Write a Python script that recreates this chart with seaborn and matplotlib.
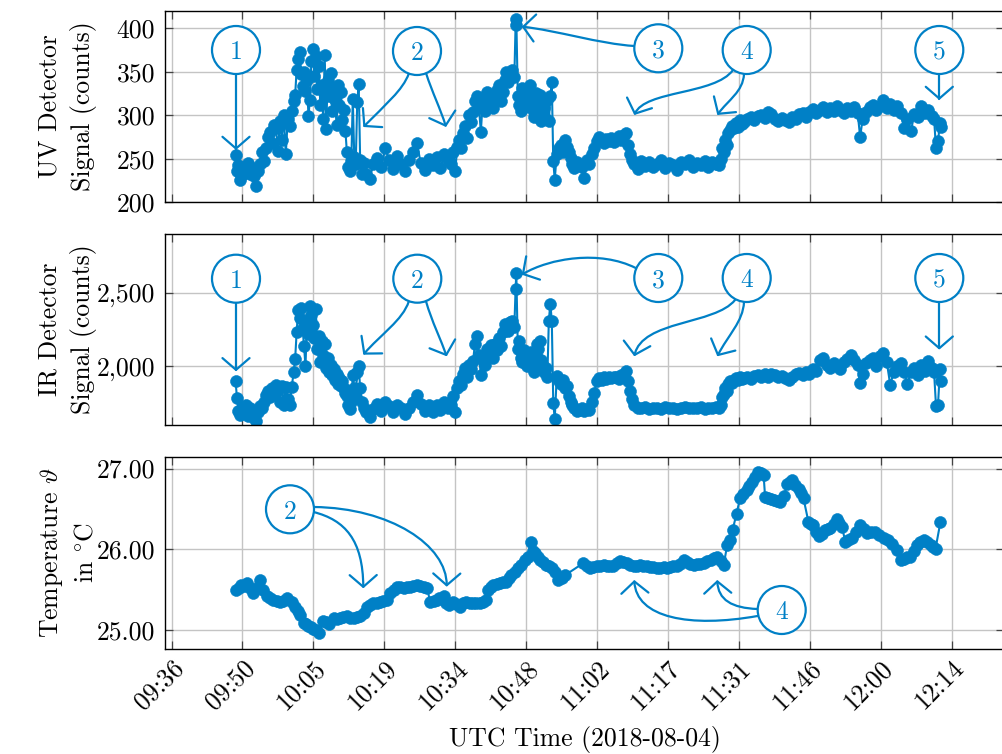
import matplotlib
matplotlib.use("Agg")
import matplotlib.pyplot as plt
from matplotlib.patches import Circle, FancyArrowPatch
from matplotlib.path import Path
from matplotlib.transforms import Affine2D
import pandas as pd
import seaborn as sns

# ---------------------------------------------------------------------------
# Detector readings (UV and IR share the same sampling instants).
# Times are minutes after midnight UTC on 2018-08-04.
# ---------------------------------------------------------------------------
detector_minutes = [
    589.0, 589.3, 589.6, 589.9, 590.3, 590.7, 591.1, 591.5, 591.9, 592.3, 592.7, 593.1, 593.5, 594.0,
    594.4, 594.8, 595.2, 595.6, 596.0, 596.4, 596.8, 597.2, 597.6, 598.0, 598.4, 598.8, 599.2, 599.6, 600.0, 600.4,
    600.8, 601.1, 601.4, 601.7, 602.0, 602.3, 602.6, 602.9, 603.2, 603.5, 603.8, 604.1, 604.4, 604.7, 605.0, 605.3,
    605.6, 605.9, 606.2, 606.5, 606.8, 607.1, 607.4, 607.7, 608.0, 608.3, 608.6, 608.9, 609.2, 609.5, 609.8, 610.1,
    610.4, 610.7, 611.0, 611.3,
    611.6, 611.9, 612.2, 612.5, 612.8, 613.1, 613.4, 613.7, 614.0, 614.3, 614.6, 615.0,
    615.4, 616.2, 617.0, 617.8, 618.6, 619.4, 620.2, 621.0, 621.8, 622.6, 623.4, 624.2, 625.0, 625.8, 626.6, 627.4,
    628.2, 629.0, 629.8, 630.6, 631.4, 632.2,
    632.8, 633.2, 633.6, 634.0, 634.4, 634.8, 635.2, 635.6, 636.0, 636.4, 636.8, 637.2, 637.6, 638.0, 638.4, 638.8,
    639.2, 639.6, 640.0, 640.4, 640.8, 641.2, 641.6, 642.0, 642.4, 642.8, 643.2, 643.6, 644.0, 644.4, 644.8, 645.2, 645.6,
    645.85, 646.0,
    646.3, 646.6, 646.9, 647.2, 647.5, 647.8, 648.1, 648.4, 648.7, 649.0, 649.3, 649.6, 649.9, 650.2, 650.5, 650.8,
    651.1, 651.4, 651.7, 652.0, 652.3, 652.6, 652.9, 653.2,
    653.5, 653.8, 654.2, 654.6, 655.0, 655.4, 655.8, 656.2, 656.6, 657.0, 657.4, 657.8, 658.3, 658.8, 659.3, 659.8,
    660.3, 660.8, 661.3, 661.8, 662.3, 662.8, 663.3, 663.8, 664.3, 664.8, 665.3, 665.8, 666.3, 666.8, 667.3, 667.8,
    668.2, 668.6, 669.0, 669.4,
    669.8, 670.6, 671.4, 672.2, 673.0, 673.8, 674.6, 675.4, 676.2, 677.0, 677.8, 678.6, 679.4, 680.2, 681.0, 681.8,
    682.6, 683.4, 684.2, 685.0, 685.8, 686.6,
    687.2, 687.5, 687.8, 688.1, 688.4, 688.7, 689.0, 689.4, 689.8, 690.2, 690.6, 691.0, 691.4, 691.8,
    692.2, 692.9, 693.6, 694.3, 695.0, 695.7, 696.4, 697.1, 697.8, 698.5, 699.2, 699.9, 700.6, 701.3, 702.0, 702.7,
    703.4, 704.1, 704.8, 705.5, 706.2, 706.9, 707.6, 708.3, 709.0, 709.7, 710.4, 711.1, 711.8, 712.5, 713.2, 713.9,
    714.6, 715.3, 715.8, 716.3, 717.0, 717.7, 718.4, 719.1, 719.8, 720.5, 721.2, 721.9, 722.6, 723.3, 724.0, 724.7,
    725.4, 726.1, 726.8, 727.5, 728.2, 728.9, 729.6, 730.3, 730.8, 731.2, 731.6, 732.0, 732.2,
]

uv_counts = [
    254, 236, 243, 226, 231, 240, 237, 245, 232, 239, 230, 219, 236, 244,
    258, 247, 262, 275, 281, 268, 289, 285, 259, 293, 272, 300, 255, 296, 288, 305,
    316, 323, 352, 364, 373, 347, 334, 350, 328, 341, 299, 318, 362, 376, 345, 368,
    330, 357, 312, 335, 296, 369, 284, 341, 322, 349, 305, 331, 318, 289, 335, 312,
    327, 295, 306, 282,
    258, 241, 236, 247, 319, 252, 244, 315, 336, 248, 233, 245,
    232, 227, 244, 251, 241, 262, 248, 238, 253, 244, 236, 249, 258, 268, 245, 237,
    250, 243, 252, 239, 256, 248,
    244, 258, 236, 263, 271, 262, 279, 288, 274, 300, 292, 304, 316, 322, 309, 281,
    318, 305, 327, 312, 323, 308, 320, 329, 335, 316, 327, 340, 350, 338, 346, 352, 344,
    404, 411,
    322, 312, 305, 331, 318, 309, 327, 314, 335, 320, 306, 298, 325, 316, 302, 323,
    293, 315, 308, 296, 318, 293, 322, 338,
    247, 226, 255, 262, 266, 258, 272, 263, 258, 251, 244, 239, 246, 243, 241, 228,
    249, 244, 256, 262, 270, 275, 271, 268, 273, 270, 274, 269, 272, 276, 271, 277,
    279, 266, 256, 248,
    244, 238, 247, 242, 246, 240, 244, 248, 239, 245, 243, 237, 246, 244, 249, 241,
    245, 243, 247, 240, 246, 244,
    243, 250, 262, 258, 271, 266, 279, 283, 288, 285, 291, 287, 294, 290,
    292, 296, 298, 294, 299, 300, 297, 304, 301, 296, 293, 297, 295, 292, 298, 296,
    301, 303, 298, 304, 307, 302, 306, 309, 304, 308, 305, 310, 306, 303, 308, 305,
    309, 302, 275, 296, 304, 309, 312, 306, 310, 317, 308, 313, 306, 311, 303, 285,
    296, 282, 301, 298, 310, 303, 306, 299, 296, 262, 270, 291, 286,
]

ir_counts = [
    1898, 1784, 1700, 1670, 1716, 1690, 1740, 1665, 1720, 1700, 1650, 1630, 1690, 1730,
    1720, 1760, 1805, 1830, 1790, 1850, 1810, 1875, 1840, 1760, 1870, 1740, 1860, 1780, 1740, 1860,
    1960, 2050, 2230, 2380, 2330, 2398, 2260, 2140, 2000, 2310, 2220, 2409, 2350, 2280, 2190, 2386,
    2120, 2205, 2030, 2170, 2080, 2150, 1990, 2060, 1960, 2010, 1940, 1980, 1910, 1950, 1880, 1920,
    1870, 1900, 1850, 1820,
    1800, 1740, 1710, 1760, 1943, 1850, 1790, 1960, 2000, 1852, 1760, 1720,
    1690, 1655, 1710, 1745, 1700, 1760, 1730, 1690, 1740, 1720, 1680, 1715, 1760, 1807, 1745, 1700,
    1735, 1690, 1740, 1705, 1755, 1720,
    1740, 1800, 1690, 1852, 1900, 1875, 1950, 1990, 1930, 2010, 1980, 2034, 2150, 2205, 2080, 1943,
    2060, 2010, 2120, 2090, 2148, 2060, 2150, 2110, 2190, 2140, 2230, 2284, 2260, 2240, 2300, 2307, 2270,
    2523, 2636,
    2120, 2170, 2060, 2030, 2110, 2050, 2000, 2080, 2057, 2100, 2010, 1960, 2080, 2150, 2120, 2170,
    2040, 2000, 1960, 1990, 1930, 2311, 2425, 2311,
    1750, 1643, 1932, 1900, 1880, 1910, 1852, 1870, 1800, 1760, 1739, 1716, 1700, 1705, 1720, 1700,
    1710, 1705, 1760, 1818, 1900, 1920, 1909, 1925, 1915, 1930, 1920, 1925, 1930, 1915, 1940, 1935,
    1966, 1900, 1830, 1780,
    1735, 1720, 1715, 1725, 1710, 1720, 1718, 1712, 1722, 1716, 1720, 1710, 1718, 1725, 1714, 1720,
    1716, 1722, 1712, 1720, 1715, 1722,
    1720, 1740, 1790, 1810, 1850, 1830, 1880, 1900, 1890, 1910, 1920, 1905, 1925, 1915,
    1920, 1930, 1915, 1935, 1940, 1925, 1945, 1930, 1950, 1940, 1925, 1935, 1920, 1910, 1930, 1945,
    1955, 1940, 1960, 1950, 1985, 1970, 2040, 2057, 2010, 1990, 2020, 2000, 1985, 2030, 2050, 2080,
    2040, 2010, 1886, 1950, 2020, 2040, 2060, 2000, 2070, 2091, 2030, 1875, 1960, 2000, 2020, 1960,
    1880, 1960, 1990, 1940, 2010, 1970, 2034, 1990, 1960, 1730, 1738, 1980, 1898,
]

# Temperature logger, sampled on its own clock (minutes after midnight UTC).
temp_minutes = [
    589.1, 589.7, 590.2, 590.8, 591.3, 592.0, 592.6, 593.6, 594.0, 594.6, 595.3, 596.0, 596.7, 597.4, 598.0, 598.7,
    599.4, 600.4, 601.1, 601.6, 602.1, 602.8, 603.3, 603.8, 604.3, 604.8, 605.4, 606.0, 606.8, 607.3, 607.9, 608.9,
    609.5, 610.2, 610.9, 611.6, 612.3, 613.0, 613.6, 614.3, 615.0, 615.7, 616.3, 617.0, 617.7, 618.4, 619.0, 619.7,
    620.4, 621.1, 621.8, 622.4, 623.1, 623.8, 624.5, 625.1, 625.8, 626.5, 627.2, 627.9, 628.5, 629.2, 629.9, 630.4,
    631.3, 631.8, 632.3, 633.1, 633.8, 634.5, 635.2, 635.8, 636.5, 637.2, 637.9, 638.6, 639.3, 639.9, 640.3, 640.8,
    641.3, 642.0, 642.6, 643.3, 644.0, 644.5, 645.0, 645.7, 646.4, 647.0, 647.7, 648.3, 648.9, 649.3, 649.8, 650.3,
    650.8, 651.4, 652.1, 652.7, 653.2, 653.8, 654.5, 655.2, 655.9, 659.6, 660.3, 661.0, 661.6, 662.3, 663.0, 663.7,
    664.4, 665.0, 665.7, 666.4, 667.1, 667.7, 668.4, 669.1, 669.8, 670.4, 671.1, 671.8, 672.5, 673.2, 673.8, 674.5,
    675.2, 675.9, 676.6, 677.2, 677.9, 678.6, 679.3, 680.0, 680.7, 681.3, 682.0, 682.7, 683.3, 684.0, 684.7, 685.5,
    686.2, 686.8, 687.5, 688.1, 688.8, 689.4, 689.9, 690.7, 691.4, 692.1, 692.8, 693.3, 693.8, 694.5, 695.1, 695.7,
    696.2, 696.5, 697.0, 697.6, 698.3, 699.0, 699.6, 700.3, 701.0, 701.5, 702.0, 702.6, 703.3, 703.8, 704.3, 705.3,
    705.8, 706.3, 706.9, 707.4, 708.0, 708.7, 709.2, 709.7, 710.4, 711.0, 711.6, 712.1, 712.8, 713.4, 714.1, 714.9,
    715.8, 716.5, 717.2, 718.0, 718.9, 719.7, 720.6, 721.4, 722.3, 723.3, 724.0, 724.6, 725.3, 726.0, 726.7, 727.4,
    728.0, 728.7, 729.4, 730.1, 730.6, 731.1, 732.1,
]

temp_celsius = [
    25.50, 25.52, 25.56, 25.55, 25.58, 25.52, 25.46, 25.54, 25.62, 25.50, 25.42, 25.40, 25.37, 25.36, 25.35, 25.36,
    25.40, 25.35, 25.29, 25.24, 25.19, 25.09, 25.07, 25.05, 25.04, 25.02, 25.00, 24.96, 25.11, 25.10, 25.07, 25.15,
    25.14, 25.15, 25.16, 25.17, 25.15, 25.15, 25.16, 25.17, 25.21, 25.29, 25.31, 25.33, 25.34, 25.35, 25.36, 25.37,
    25.46, 25.50, 25.54, 25.53, 25.52, 25.53, 25.54, 25.55, 25.56, 25.55, 25.54, 25.52, 25.35, 25.36, 25.37, 25.40,
    25.42, 25.33, 25.31, 25.35, 25.32, 25.29, 25.33, 25.35, 25.34, 25.33, 25.34, 25.33, 25.35, 25.37, 25.50, 25.53,
    25.56, 25.57, 25.58, 25.59, 25.60, 25.64, 25.68, 25.72, 25.77, 25.81, 25.87, 25.90, 26.09, 25.98, 25.95, 25.90,
    25.87, 25.84, 25.81, 25.79, 25.77, 25.72, 25.62, 25.65, 25.68, 25.83, 25.80, 25.77, 25.78, 25.79, 25.80, 25.81,
    25.80, 25.79, 25.79, 25.83, 25.85, 25.84, 25.83, 25.81, 25.79, 25.80, 25.81, 25.80, 25.79, 25.78, 25.78, 25.77,
    25.77, 25.78, 25.77, 25.78, 25.79, 25.80, 25.82, 25.87, 25.84, 25.82, 25.81, 25.82, 25.82, 25.83, 25.85, 25.87,
    25.89, 25.91, 25.86, 25.81, 26.05, 26.12, 26.24, 26.44, 26.63, 26.68, 26.73, 26.78, 26.84, 26.90, 26.96, 26.94,
    26.92, 26.65, 26.64, 26.62, 26.61, 26.60, 26.59, 26.66, 26.81, 26.84, 26.86, 26.80, 26.75, 26.70, 26.63, 26.34,
    26.32, 26.30, 26.22, 26.16, 26.19, 26.24, 26.25, 26.26, 26.31, 26.38, 26.33, 26.28, 26.09, 26.12, 26.14, 26.22,
    26.30, 26.25, 26.20, 26.21, 26.22, 26.18, 26.14, 26.11, 26.07, 25.99, 25.87, 25.88, 25.90, 25.91, 25.98, 26.05,
    26.09, 26.12, 26.09, 26.05, 26.03, 26.01, 26.34,
]

# Axis ticks: every 0.01 day (14.4 min) starting at 09:36
tick_day_fraction = [0.40, 0.41, 0.42, 0.43, 0.44, 0.45, 0.46, 0.47, 0.48, 0.49, 0.50, 0.51]
tick_labels = ["09:36", "09:50", "10:05", "10:19", "10:34", "10:48",
               "11:02", "11:17", "11:31", "11:46", "12:00", "12:14"]

uv_ticks = [200, 250, 300, 350, 400]
uv_tick_labels = ["200", "250", "300", "350", "400"]
ir_ticks = [2000, 2500]
ir_tick_labels = ["2,000", "2,500"]
temp_ticks = [25.0, 26.0, 27.0]
temp_tick_labels = ["25.00", "26.00", "27.00"]

# ---------------------------------------------------------------------------
BLUE = "#0080c6"
FS = 18.5

sns.set_theme(style="whitegrid")
plt.rcParams.update({
    "font.family": ["cmr10"],
    "mathtext.fontset": "cm",
    "axes.formatter.use_mathtext": True,
    "font.size": FS,
    "axes.labelsize": FS,
    "xtick.labelsize": FS,
    "ytick.labelsize": FS,
    "text.color": "black",
    "axes.labelcolor": "black",
    "xtick.color": "black",
    "ytick.color": "black",
})

W, H = 1003, 754
fig = plt.figure(figsize=(W / 100, H / 100), dpi=100)
fig.patch.set_facecolor("white")

# panel frames in canvas pixels (left, right, and top/bottom of each row)
LEFT, RIGHT = 165.0, 1004.5
rows = [(10.7, 202.3), (233.7, 425.3), (457.3, 648.7)]
axes = [fig.add_axes([LEFT / W, 1 - b / H, (RIGHT - LEFT) / W, (b - t) / H]) for t, b in rows]
ax_uv, ax_ir, ax_t = axes

det = pd.DataFrame({"minute": detector_minutes, "uv": uv_counts, "ir": ir_counts})
tmp = pd.DataFrame({"minute": temp_minutes, "temp": temp_celsius})

line_kw = dict(color=BLUE, lw=1.5, marker="o", markersize=8.6, markeredgewidth=0.4,
               markeredgecolor=BLUE, estimator=None, sort=False, legend=False)
sns.lineplot(data=det, x="minute", y="uv", ax=ax_uv, **line_kw)
sns.lineplot(data=det, x="minute", y="ir", ax=ax_ir, **line_kw)
sns.lineplot(data=tmp, x="minute", y="temp", ax=ax_t, **line_kw)

tick_minutes = [d * 1440 for d in tick_day_fraction]
for ax in axes:
    ax.set_facecolor("white")
    ax.set_xlim(574.68, 745.1)
    ax.set_xticks(tick_minutes)
    ax.grid(True, color="#c4c4c4", lw=1.0)
    ax.set_axisbelow(True)
    for s in ax.spines.values():
        s.set_color("black")
        s.set_linewidth(1.0)
    ax.tick_params(direction="in", length=6, width=0.9, color="#444444",
                   top=True, bottom=True, left=True, right=True)
    ax.tick_params(axis="y", pad=7)
    ax.set_xlabel("")

ax_uv.tick_params(labelbottom=False)
ax_ir.tick_params(labelbottom=False)

ax_uv.set_ylim(200, 420)
ax_uv.set_yticks(uv_ticks, uv_tick_labels)
ax_ir.set_ylim(1600, 2900)
ax_ir.set_yticks(ir_ticks, ir_tick_labels)
ax_t.set_ylim(24.77, 27.14)
ax_t.set_yticks(temp_ticks, temp_tick_labels)

ax_t.set_xticks(tick_minutes, tick_labels, rotation=45, ha="right", rotation_mode="anchor")
ax_t.tick_params(axis="x", pad=5)

ax_uv.set_ylabel("UV Detector\nSignal (counts)", linespacing=1.45)
ax_ir.set_ylabel("IR Detector\nSignal (counts)", linespacing=1.45)
ax_t.set_ylabel("Temperature $\\vartheta$\nin $^{\\circ}$C", linespacing=1.45)
for ax in axes:
    ax.yaxis.set_label_coords(-0.081, 0.5)

ax_t.set_xlabel("UTC Time (2018-08-04)")
ax_t.xaxis.set_label_coords(0.5, -0.405)

# ---------------------------------------------------------------------------
# Numbered call-outs; geometry is given in canvas pixels from the top-left.
canvas = Affine2D().scale(1 / W, -1 / H).translate(0, 1) + fig.transFigure
HEAD = "->,head_length=0.65,head_width=0.75"


def badge(cx, cy, label):
    fig.add_artist(Circle((cx, cy), 24, transform=canvas, fc="white", ec=BLUE, lw=1.6, zorder=6))
    fig.text(cx, cy, label, transform=canvas, ha="center", va="center_baseline",
             color=BLUE, fontsize=FS, zorder=7)


def pointer(*pts):
    codes = [Path.MOVETO] + ([Path.CURVE4] * 3 if len(pts) == 4 else [Path.LINETO])
    fig.add_artist(FancyArrowPatch(path=Path(pts, codes), transform=canvas, arrowstyle=HEAD,
                                   mutation_scale=13, lw=1.6, color=BLUE, zorder=5,
                                   capstyle="round", joinstyle="round"))


# UV panel
pointer((236, 74), (236, 150))
pointer((408.8, 73.6), (403, 90), (385, 105), (363.3, 127))
pointer((426, 73), (432, 92), (441, 110), (446, 127))
pointer((634.5, 46), (600, 44), (555, 30), (521.7, 26.7))
pointer((733, 70), (715, 95), (645, 90), (634.3, 115))
pointer((744, 74), (743, 92), (728, 100), (717.3, 115))
pointer((939.3, 74), (939.3, 100))
for (cx, cy), lab in zip([(236, 50), (417, 51), (658.3, 48.3), (746.7, 50), (939.3, 50)], "12345"):
    badge(cx, cy, lab)

# IR panel
pointer((236, 302.7), (236, 371.3))
pointer((408.8, 301.3), (403, 320), (380, 335), (363.3, 354.7))
pointer((426, 301.3), (432, 322), (441, 340), (446.7, 356.3))
pointer((635.7, 268), (600, 250), (550, 258), (521.7, 274.7))
pointer((735, 300), (715, 325), (642, 320), (634.3, 356.3))
pointer((744, 302), (743, 322), (728, 335), (717.3, 356.3))
pointer((939.3, 302), (939.3, 349.7))
for (cx, cy), lab in zip([(236, 278.7), (417.3, 278.7), (658.3, 278), (746.7, 278), (939.3, 278)], "12345"):
    badge(cx, cy, lab)

# temperature panel
pointer((313.5, 512), (345, 520), (363, 540), (363.3, 588.3))
pointer((314, 507), (390, 508), (447, 545), (446.7, 586.7))
pointer((757.5, 616), (690, 628), (636, 618), (634.3, 580))
pointer((757.5, 609), (732, 608), (718, 600), (717.3, 580))
badge(290, 509.3, "2")
badge(781.7, 610, "4")

fig.savefig("out.png", dpi=100, facecolor="white")
